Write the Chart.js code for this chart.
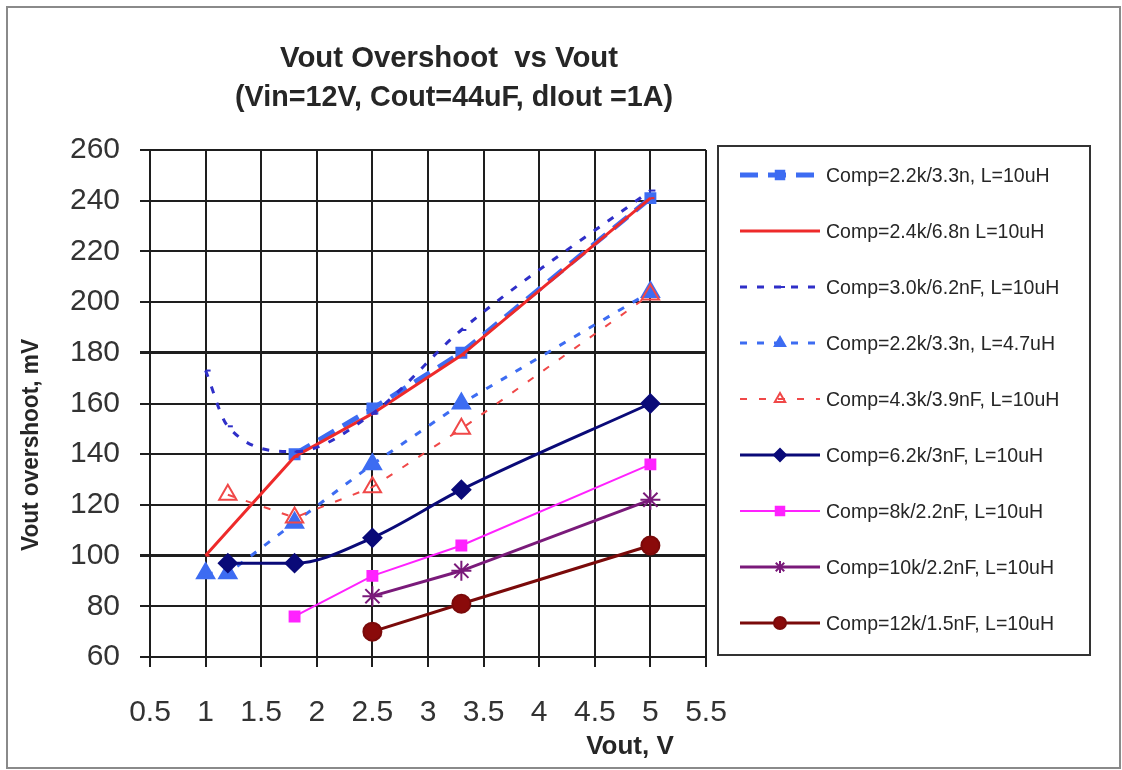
<!DOCTYPE html>
<html>
<head>
<meta charset="utf-8">
<title>Vout Overshoot vs Vout</title>
<script src="https://cdn.jsdelivr.net/npm/chart.js@4.4.1/dist/chart.umd.min.js"></script>
<style>
  html, body { margin: 0; padding: 0; background: #fff; }
  #wrap { width: 1122px; height: 770px; position: relative; }
</style>
</head>
<body>
<div id="wrap"><canvas id="chart"></canvas></div>
<script>
// axis ticks
const xTicks = [0.5, 1, 1.5, 2, 2.5, 3, 3.5, 4, 4.5, 5, 5.5];
const yTicks = [60, 80, 100, 120, 140, 160, 180, 200, 220, 240, 260];

// series labels
const seriesNames = [
    'Comp=2.2k/3.3n, L=10uH',
    'Comp=2.4k/6.8n L=10uH',
    'Comp=3.0k/6.2nF, L=10uH',
    'Comp=2.2k/3.3n, L=4.7uH',
    'Comp=4.3k/3.9nF, L=10uH',
    'Comp=6.2k/3nF, L=10uH',
    'Comp=8k/2.2nF, L=10uH',
    'Comp=10k/2.2nF, L=10uH',
    'Comp=12k/1.5nF, L=10uH'
];

// Vout (V) and overshoot (mV) per series
const vout1 = [1.8, 2.5, 3.3, 5.0];
const over1 = [140, 158, 180, 241];
const vout2 = [1.0, 1.8, 2.5, 3.3, 5.0];
const over2 = [100, 139, 156, 179, 241];
const vout3 = [1.0, 1.2, 1.8, 2.5, 3.3, 5.0];
const over3 = [173, 151, 141, 156, 189, 244];
const vout4 = [1.0, 1.2, 1.8, 2.5, 3.3, 5.0];
const over4 = [93, 93, 113, 136, 160, 204];
const vout5 = [1.2, 1.8, 2.5, 3.3, 5.0];
const over5 = [124, 115, 127, 150, 203];
const vout6 = [1.2, 1.8, 2.5, 3.3, 5.0];
const over6 = [97, 97, 107, 126, 160];
const vout7 = [1.8, 2.5, 3.3, 5.0];
const over7 = [76, 92, 104, 136];
const vout8 = [2.5, 3.3, 5.0];
const over8 = [84, 94, 122];
const vout9 = [2.5, 3.3, 5.0];
const over9 = [70, 81, 104];

const FONT = "'Liberation Sans', Arial, sans-serif";

function pts(xs, ys) {
    return xs.map((x, i) => ({ x: x, y: ys[i] }));
}

// line / marker look of every series
const styles = [
    { color: '#3d6cf2', width: 5, dash: [18, 10], point: 'rect', radius: 7, fill: '#3d6cf2' },
    { color: '#ee2a2a', width: 3, dash: [], point: 'dash', radius: 4, fill: '#ee2a2a' },
    { color: '#2f2fc8', width: 3, dash: [7, 10], point: 'dash', radius: 5, fill: '#2f2fc8', smooth: true },
    { color: '#3d6cf2', width: 3, dash: [7, 10], point: 'triangle', radius: 10, fill: '#3d6cf2' },
    { color: '#f04848', width: 2, dash: [7, 12], point: 'triangle', radius: 10, fill: 'rgba(255,255,255,0)' },
    { color: '#0a0a78', width: 3, dash: [], point: 'rectRot', radius: 9, fill: '#0a0a78', smooth: true },
    { color: '#ff22ff', width: 2, dash: [], point: 'rect', radius: 7, fill: '#ff22ff' },
    { color: '#7a1a7a', width: 3, dash: [], point: 'star', radius: 10, fill: '#7a1a7a' },
    { color: '#7a0a0a', width: 3, dash: [], point: 'circle', radius: 9, fill: '#8a0a0a' }
];

const seriesData = [
    pts(vout1, over1), pts(vout2, over2), pts(vout3, over3),
    pts(vout4, over4), pts(vout5, over5), pts(vout6, over6),
    pts(vout7, over7), pts(vout8, over8), pts(vout9, over9)
];

const datasets = seriesData.map((d, i) => {
    const s = styles[i];
    return {
        label: seriesNames[i],
        data: d,
        borderColor: s.color,
        backgroundColor: s.fill,
        borderWidth: s.width,
        borderDash: s.dash,
        pointStyle: s.point,
        pointRadius: s.radius,
        pointHoverRadius: s.radius,
        pointBorderColor: s.color,
        pointBackgroundColor: s.fill,
        pointBorderWidth: 2,
        cubicInterpolationMode: s.smooth ? 'monotone' : 'default',
        tension: 0,
        fill: false,
        order: seriesData.length - i
    };
});

// frame, titles and boxed legend
const decorations = {
    id: 'decorations',
    beforeDraw(chart) {
        const ctx = chart.ctx;
        ctx.save();
        ctx.fillStyle = '#fff';
        ctx.fillRect(0, 0, chart.width, chart.height);
        ctx.strokeStyle = '#8a8a8a';
        ctx.lineWidth = 2;
        ctx.strokeRect(7, 7, 1113, 761);
        ctx.restore();
    },
    afterDraw(chart) {
        const ctx = chart.ctx;
        ctx.save();
        ctx.fillStyle = '#262626';
        ctx.textAlign = 'center';
        ctx.textBaseline = 'alphabetic';

        // chart title
        ctx.font = 'bold 30px ' + FONT;
        ctx.fillText('Vout Overshoot  vs Vout', 449, 67, 338);
        ctx.fillText('(Vin=12V, Cout=44uF, dIout =1A)', 454, 106, 438);

        // axis titles
        ctx.font = 'bold 26px ' + FONT;
        ctx.fillText('Vout, V', 630, 754, 95);
        ctx.save();
        ctx.translate(38, 445);
        ctx.rotate(-Math.PI / 2);
        ctx.font = 'bold 24px ' + FONT;
        ctx.fillText('Vout overshoot, mV', 0, 0, 212);
        ctx.restore();

        // legend box
        ctx.strokeStyle = '#333';
        ctx.lineWidth = 2;
        ctx.strokeRect(718, 146, 372, 509);

        chart.data.datasets.forEach((ds, i) => {
            const yc = 175 + i * 56;
            ctx.save();
            ctx.strokeStyle = ds.borderColor;
            ctx.lineWidth = ds.borderWidth;
            ctx.setLineDash(ds.borderDash);
            ctx.beginPath();
            ctx.moveTo(740, yc);
            ctx.lineTo(820, yc);
            ctx.stroke();
            ctx.setLineDash([]);
            ctx.fillStyle = ds.pointBackgroundColor;
            ctx.strokeStyle = ds.pointBorderColor;
            ctx.lineWidth = 2;
            Chart.helpers.drawPoint(ctx, {
                pointStyle: ds.pointStyle,
                radius: Math.min(ds.pointRadius, 6),
                rotation: 0,
                borderWidth: 2
            }, 780, yc);
            ctx.restore();

            ctx.font = '21px ' + FONT;
            ctx.fillStyle = '#262626';
            ctx.textAlign = 'left';
            ctx.textBaseline = 'middle';
            const w = ctx.measureText(ds.label).width;
            ctx.fillText(ds.label, 826, yc + 1, w * 0.93);
        });
        ctx.restore();
    }
};

new Chart(document.getElementById('chart'), {
    type: 'line',
    data: { datasets: datasets },
    options: {
        responsive: true,
        maintainAspectRatio: false,
        animation: false,
        layout: { padding: { top: 150, right: 416, bottom: 0, left: 0 } },
        plugins: {
            legend: { display: false },
            title: { display: false },
            tooltip: { enabled: false }
        },
        scales: {
            x: {
                type: 'linear',
                min: xTicks[0],
                max: xTicks[xTicks.length - 1],
                afterBuildTicks: axis => { axis.ticks = xTicks.map(v => ({ value: v })); },
                afterFit: axis => { axis.height = 113; },
                grid: {
                    color: '#1e1e1e',
                    lineWidth: 2,
                    drawTicks: true,
                    tickLength: 10,
                    tickColor: '#1e1e1e'
                },
                border: { color: '#1e1e1e', width: 2 },
                ticks: {
                    color: '#333',
                    padding: 28,
                    font: { family: FONT, size: 30 },
                    maxRotation: 0,
                    autoSkip: false,
                    callback: v => String(v)
                }
            },
            y: {
                type: 'linear',
                min: yTicks[0],
                max: yTicks[yTicks.length - 1],
                afterBuildTicks: axis => { axis.ticks = yTicks.map(v => ({ value: v })); },
                afterFit: axis => { axis.width = 150; },
                grid: {
                    color: '#1e1e1e',
                    lineWidth: c => (c.tick && (c.tick.value === 100 || c.tick.value === 180)) ? 3 : 2,
                    drawTicks: true,
                    tickLength: 10,
                    tickColor: '#1e1e1e'
                },
                border: { color: '#1e1e1e', width: 2 },
                ticks: {
                    color: '#333',
                    padding: 20,
                    font: { family: FONT, size: 30 },
                    autoSkip: false,
                    callback: v => String(v)
                }
            }
        }
    },
    plugins: [decorations]
});
</script>
</body>
</html>
